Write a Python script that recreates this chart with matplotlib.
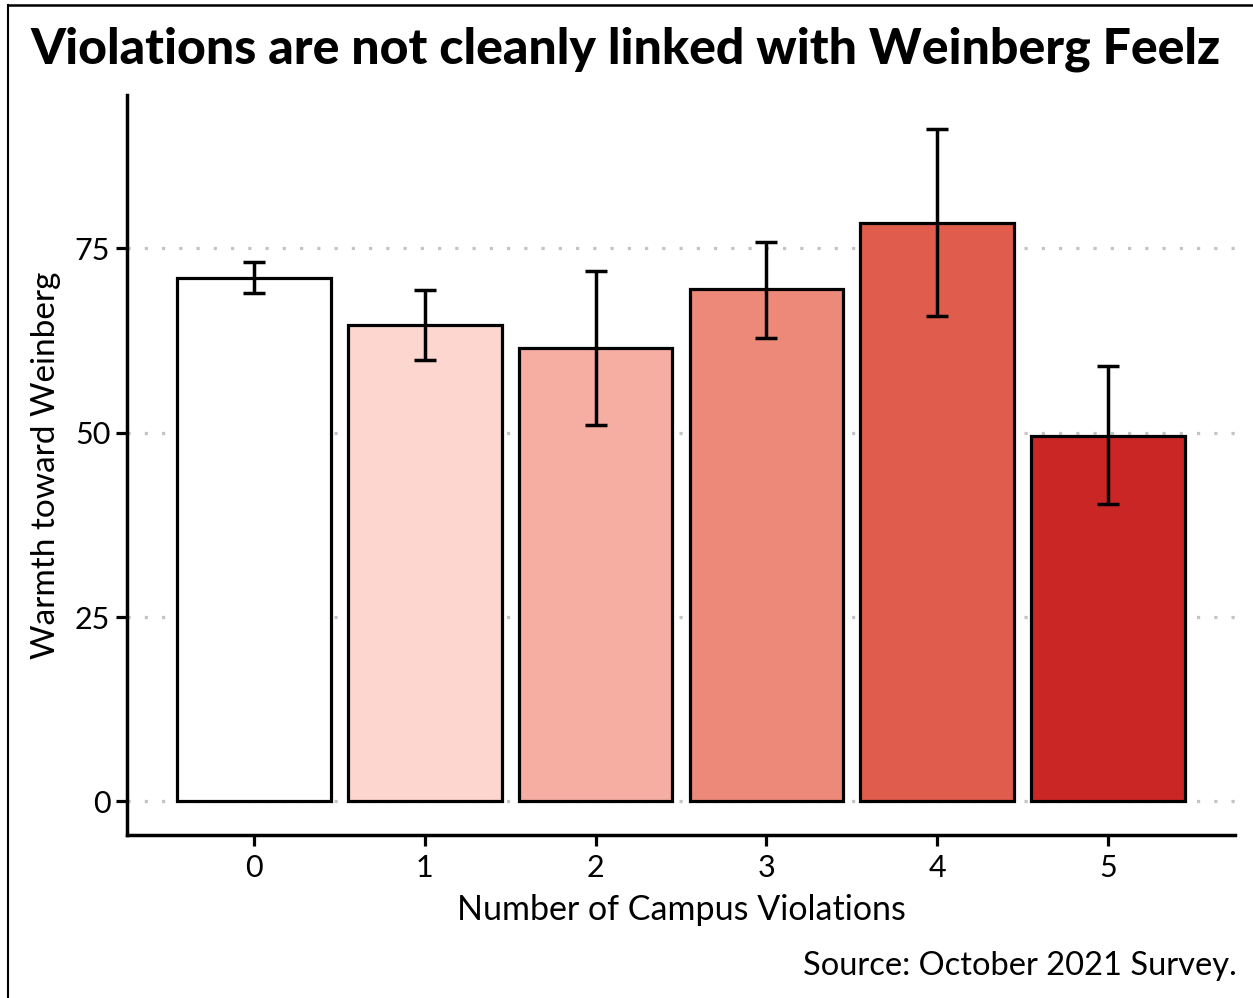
import matplotlib
matplotlib.use("Agg")
import matplotlib.pyplot as plt
from matplotlib.lines import Line2D

plt.rcParams['font.family'] = ['Lato', 'DejaVu Sans']

violations = [0, 1, 2, 3, 4, 5]
warmth = [71.0, 64.6, 61.5, 69.5, 78.5, 49.6]
err_low = [68.9, 59.9, 51.1, 62.9, 65.8, 40.3]
err_high = [73.1, 69.3, 71.9, 75.9, 91.2, 59.0]
colors = ['#ffffff', '#fdd6cf', '#f7aea2', '#ed8979', '#e05d4e', '#cb2626']
yticks = [0, 25, 50, 75]

fig = plt.figure(figsize=(12.53, 9.98), dpi=100)
ax = fig.add_axes([127 / 1253, 1 - 835 / 998, (1235 - 127) / 1253, (835 - 95) / 998])

# dotted horizontal grid behind the bars
for t in yticks:
    ax.axhline(t, color='#c4c4c4', lw=2.3, linestyle=(0, (1, 4.4)),
               dash_capstyle='butt', zorder=0)

ax.bar(violations, warmth, width=0.9, color=colors, edgecolor='black',
       linewidth=2.3, zorder=2)

yerr = [[w - lo for w, lo in zip(warmth, err_low)],
        [hi - w for w, hi in zip(warmth, err_high)]]
ax.errorbar(violations, warmth, yerr=yerr, fmt='none', ecolor='black',
            elinewidth=2.5, capsize=8, capthick=2.5, zorder=3)

ax.set_xlim(-0.744, 5.744)
ax.set_ylim(-4.56, 95.8)
ax.set_xticks(violations)
ax.set_yticks(yticks)
ax.tick_params(axis='both', length=8, width=2.3, labelsize=22, color='black')
ax.tick_params(axis='x', pad=6)
ax.tick_params(axis='y', pad=4)

for side in ['top', 'right']:
    ax.spines[side].set_visible(False)
for side in ['left', 'bottom']:
    ax.spines[side].set_linewidth(2.5)

ax.set_xlabel("Number of Campus Violations", fontsize=24.5, labelpad=8)
ax.set_ylabel("Warmth toward Weinberg", fontsize=24, labelpad=10)

fig.text(30 / 1253, 1 - 64 / 998, "Violations are not cleanly linked with Weinberg Feelz",
         fontsize=36, fontweight='black', ha='left', va='baseline')
fig.text(1237 / 1253, 1 - 975 / 998, "Source: October 2021 Survey.",
         fontsize=23.5, ha='right', va='baseline')

# frame around the figure (top and left edges visible)
fig.add_artist(Line2D([8 / 1253, 8 / 1253], [0, 1 - 5 / 998], transform=fig.transFigure,
                      color='black', lw=1.5))
fig.add_artist(Line2D([8 / 1253, 1], [1 - 5 / 998, 1 - 5 / 998], transform=fig.transFigure,
                      color='black', lw=1.8))

fig.savefig("out.png", dpi=100)
